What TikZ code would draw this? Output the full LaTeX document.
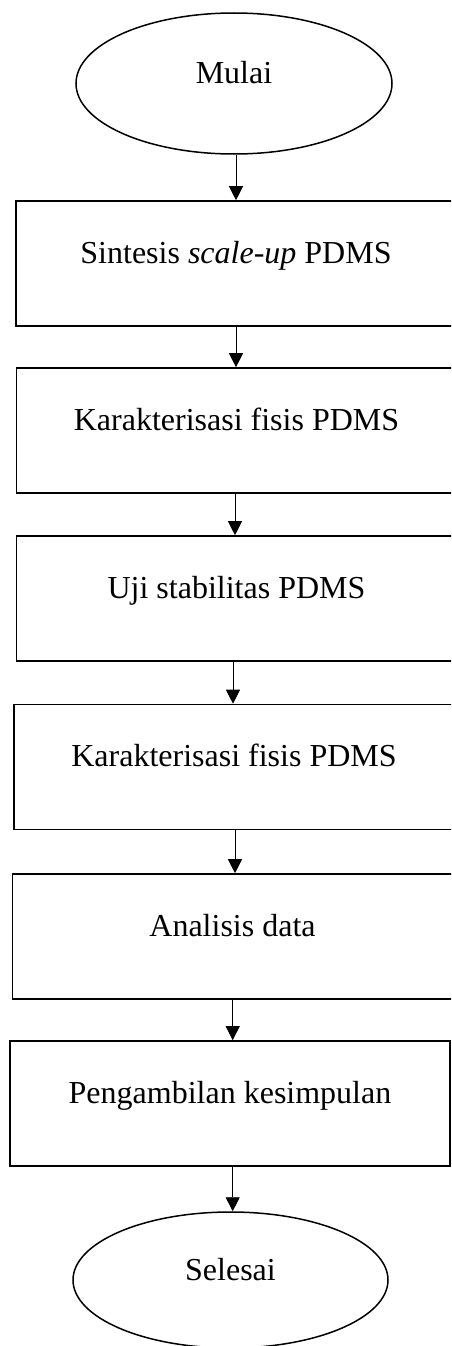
\documentclass[tikz,border=0pt]{standalone}
\usepackage{fontspec}
\setmainfont{Liberation Serif}
\usetikzlibrary{shapes.geometric,arrows.meta}
\begin{document}
\begin{tikzpicture}[x=1pt,y=-1pt,
  every node/.style={font=\fontsize{32}{38}\selectfont},
  stepbox/.style={draw,line width=1.6pt,rectangle,inner sep=0pt,minimum width=440pt,
    text height=62pt,text depth=63pt},
  term/.style={draw,line width=1.5pt,ellipse,inner sep=0pt,text height=0pt,text depth=0pt},
  arr/.style={line width=0.9pt,-{Triangle[width=14pt,length=14pt]}}]
\useasboundingbox (0,0) rectangle (451,1346);
\clip (0,0) rectangle (451,1346);
\node[term,minimum width=316pt,minimum height=141pt] (m) at (234,83.5) {Mulai};
\node[stepbox] (b1) at (236,263.5) {Sintesis \textit{scale-up} PDMS};
\node[stepbox] (b2) at (236.5,430.5) {Karakterisasi fisis PDMS};
\node[stepbox] (b3) at (236.5,598.5) {Uji stabilitas PDMS};
\node[stepbox] (b4) at (234,767) {Karakterisasi fisis PDMS};
\node[stepbox] (b5) at (232.5,936.5) {Analisis data};
\node[stepbox] (b6) at (230,1103.5) {Pengambilan kesimpulan};
\node[term,minimum width=315pt,minimum height=136pt] (s) at (230.5,1280) {Selesai};
\draw[arr] (m.south -| 236,0) -- (b1.north -| 236,0);
\draw[arr] (b1.south -| 236,0) -- (b2.north -| 236,0);
\draw[arr] (b2.south -| 235,0) -- (b3.north -| 235,0);
\draw[arr] (b3.south -| 233,0) -- (b4.north -| 233,0);
\draw[arr] (b4.south -| 235,0) -- (b5.north -| 235,0);
\draw[arr] (b5.south -| 232.7,0) -- (b6.north -| 232.7,0);
\draw[arr] (b6.south -| 232.7,0) -- (s.north -| 232.7,0);
\end{tikzpicture}
\end{document}
